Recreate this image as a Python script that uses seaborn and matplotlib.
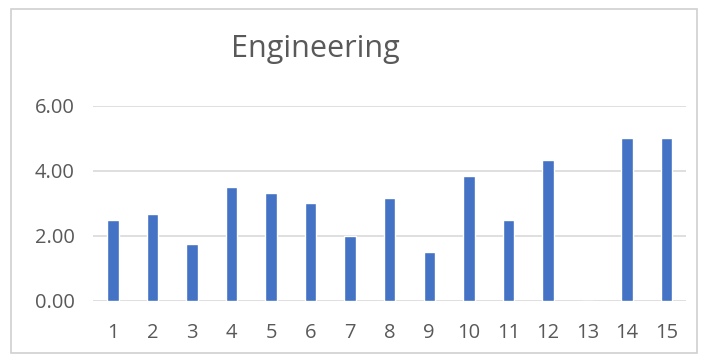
import matplotlib
matplotlib.use("Agg")
import matplotlib.pyplot as plt
from matplotlib.patches import Rectangle
import seaborn as sns
import pandas as pd

# Scores per item
categories = [str(i) for i in range(1, 16)]
scores = [2.5, 2.67, 1.75, 3.5, 3.33, 3.0, 2.0, 3.17, 1.5, 3.83, 2.5, 4.33, 0.0, 5.0, 5.0]
y_ticks = [0, 2, 4, 6]
y_tick_labels = ["0.00", "2.00", "4.00", "6.00"]
title = "Engineering"

sns.set_theme(style="white")
plt.rcParams["font.family"] = ["Open Sans", "DejaVu Sans"]

df = pd.DataFrame({"item": categories, "score": scores})

fig = plt.figure(figsize=(7.06, 3.58), dpi=100)
ax = fig.add_axes([0.132, 0.160, 0.840, 0.544])

sns.barplot(data=df, x="item", y="score", order=categories, color="#4472C4",
            width=0.29, saturation=1, ax=ax, zorder=3)

ax.set_ylim(0, 6)
ax.set_xlim(-0.5, len(categories) - 0.5)
ax.set_yticks(y_ticks)
ax.set_yticklabels(y_tick_labels)
ax.set_xlabel("")
ax.set_ylabel("")
ax.grid(axis="y", color="#D9D9D9", linewidth=1.2, zorder=0)
ax.grid(axis="x", visible=False)
for s in ax.spines.values():
    s.set_visible(False)
ax.tick_params(axis="both", length=0, labelsize=14.5, colors="#595959")
ax.tick_params(axis="y", pad=13.5)
ax.tick_params(axis="x", pad=16)

fig.text(0.447, 1 - 57.5 / 358, title, ha="center", va="baseline",
         fontsize=22, color="#595959")

# Chart frame
fig.patches.append(Rectangle((11 / 706, 5 / 358), 686 / 706, 344 / 358,
                             transform=fig.transFigure, fill=False,
                             edgecolor="#D0D0D0", linewidth=1.2))

fig.savefig("out.png", dpi=100, facecolor="white")
